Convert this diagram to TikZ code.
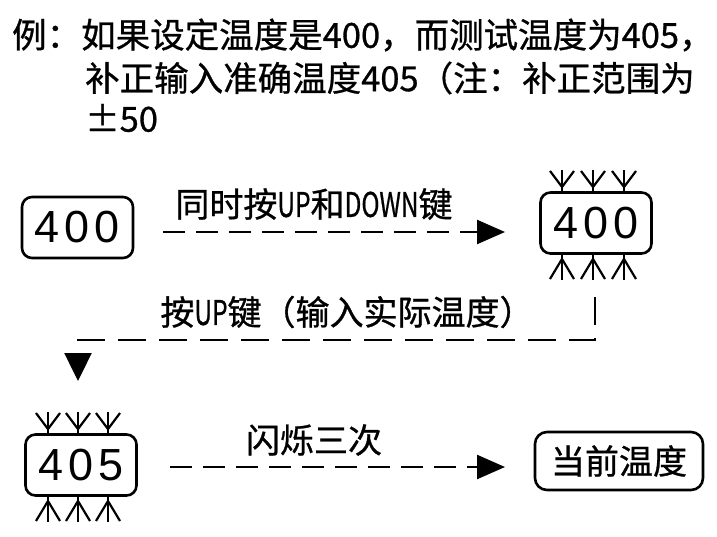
\documentclass[tikz,border=0pt]{standalone}
\usepackage{fontspec}
\setmainfont{Liberation Sans}
\newfontfamily\cjk{Noto Sans CJK SC}[FakeBold=0.8]
\usetikzlibrary{arrows.meta}
\newcommand{\nar}[1]{\scalebox{0.72}[1]{#1}}
\begin{document}
\begin{tikzpicture}[x=1pt,y=-1pt,
  title/.style={font=\cjk\fontsize{34.5}{40}\selectfont, inner sep=0pt, anchor=west},
  lbl/.style={font=\cjk\fontsize{34}{40}\selectfont, inner sep=0pt},
  numbox/.style={draw, rounded corners=10pt, line width=2.6pt, inner sep=0pt,
    minimum width=111pt, minimum height=61pt, font=\fontsize{45}{45}\selectfont},
  wordbox/.style={draw, rounded corners=12pt, line width=2.6pt, inner sep=0pt,
    minimum width=168pt, minimum height=58pt, font=\cjk\fontsize{34}{40}\selectfont},
  dashline/.style={line width=2.4pt, dash pattern=on 22pt off 11pt,
    -{Triangle[length=28pt,width=24pt]}},
  dashline2/.style={line width=2.4pt, dash pattern=on 28pt off 13pt,
    -{Triangle[length=28pt,width=27pt]}},
  keydown/.pic={\draw[line width=2.2pt] (0,0) -- (0,23);
    \draw[line width=2.2pt, line join=miter] (-12,1) -- (0,17) -- (12,1);},
  keyup/.pic={\draw[line width=2.2pt] (0,0) -- (0,27);
    \draw[line width=2.2pt, line join=miter] (-12,26) -- (0,6) -- (12,26);}
]
\useasboundingbox (0,0) rectangle (717,536);

% title text
\node[title] (t1) at (12,35) {例：如果设定温度是400，而测试温度为405，};
\node[title] (t2) at (85,78) {补正输入准确温度405（注：补正范围为};
\node[title] (t3) at (85,118) {±50};

% boxes
\newcommand{\dg}[3]{#1\hspace{5pt}#2\hspace{5pt}#3}
\node[numbox] (b1) at (77.5,227.5) {\dg400};
\node[numbox] (b2) at (596,223) {\dg400};
\node[numbox] (b3) at (81,465) {\dg405};
\node[wordbox] (b4) at (619,461) {当前温度};

% key arrows on box 2
\foreach \x in {562,593,624} {
  \pic at (\x,170) {keydown};
  \pic at (\x,253) {keyup};
}
% key arrows on box 3
\foreach \x in {48,78,108} {
  \pic at (\x,412) {keydown};
  \pic at (\x,495) {keyup};
}

% labels
\node[lbl] (l1) at (314,204) {同时按\nar{UP}和\nar{DOWN}键};
\node[lbl] (l2) at (347,312) {按\nar{UP}键（输入实际温度）};
\node[lbl] (l3) at (314,440) {闪烁三次};

% connectors
\coordinate (a1s) at (163,232);
\coordinate (a1e) at (505,232);
\draw[dashline] (a1s) -- (a1e);

\coordinate (a2s) at (595,297);
\coordinate (a2c) at (595,340);
\coordinate (a2d) at (78,340);
\coordinate (a2e) at (78,381);
\draw[dashline2] (a2s) -- (a2c) -- (a2d) -- (a2e);

\coordinate (a3s) at (170,467);
\coordinate (a3e) at (505,467);
\draw[dashline] (a3s) -- (a3e);
\end{tikzpicture}
\end{document}
